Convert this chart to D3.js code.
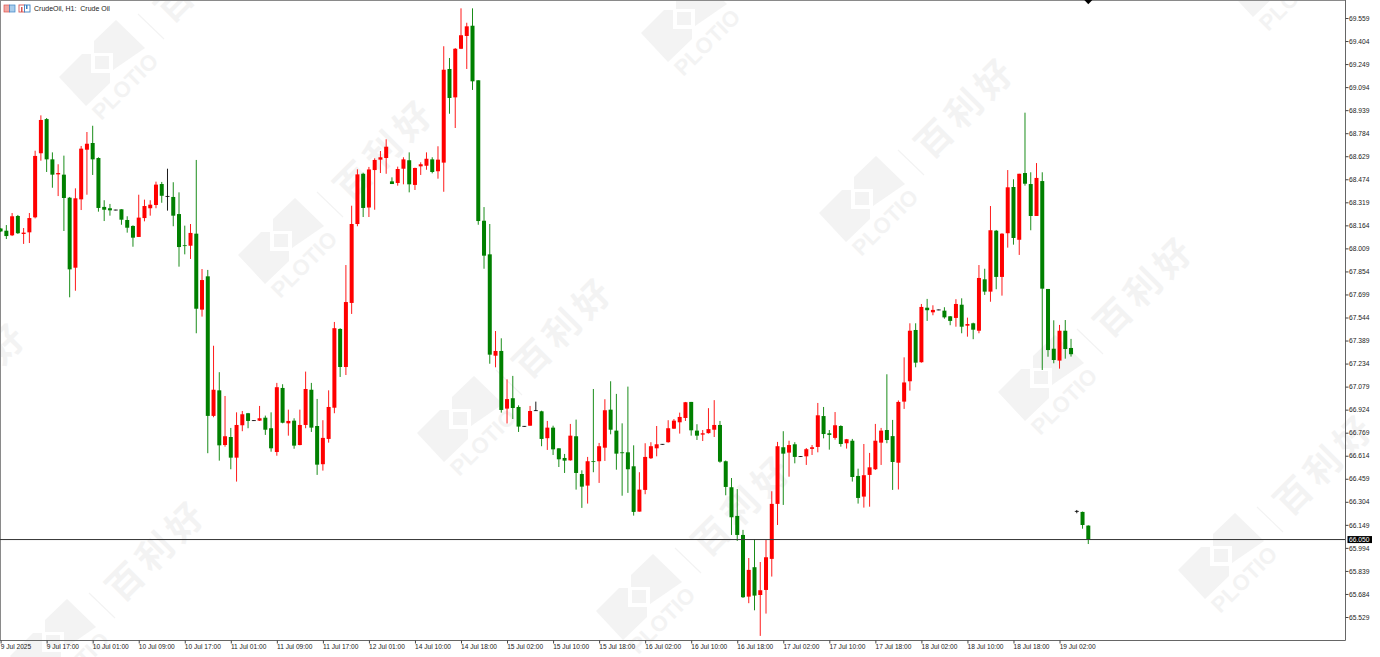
<!DOCTYPE html>
<html><head><meta charset="utf-8">
<script src="https://cdn.jsdelivr.net/npm/d3@7/dist/d3.min.js"></script>
<style>html,body{margin:0;padding:0;background:#fff;overflow:hidden}svg{display:block}text{font-family:"Liberation Sans",Arial,sans-serif}</style>
</head><body><svg id="c" width="1380" height="657"></svg>
<script>
const opens=[68.143,68.128,68.097,68.227,68.106,68.117,68.218,68.649,68.879,68.608,
68.507,68.505,68.350,67.879,68.339,68.673,68.718,68.617,68.288,68.279,
68.267,68.272,68.200,68.160,68.086,68.213,68.279,68.301,68.442,68.359,
68.355,68.240,68.030,68.027,68.108,67.597,67.821,66.882,67.054,66.686,
66.740,66.601,66.819,66.900,66.850,66.850,66.870,66.799,66.639,67.070,
66.832,66.850,66.686,66.821,67.058,66.814,66.557,66.727,66.937,67.467,
67.211,67.642,68.173,68.511,68.284,68.536,68.606,68.617,68.460,68.449,
68.545,68.602,68.436,68.561,68.565,68.608,68.528,68.586,69.216,69.025,
69.352,69.438,69.507,69.140,68.195,67.969,67.287,67.319,66.931,67.001,
66.942,66.812,66.816,66.917,66.913,66.732,66.803,66.664,66.599,66.583,
66.745,66.491,66.413,66.577,66.577,66.668,66.924,66.783,66.637,66.637,
66.543,66.238,66.384,66.597,66.664,66.691,66.705,66.796,66.839,66.868,
66.976,66.783,66.756,66.766,66.789,66.821,66.577,66.402,66.209,66.081,
65.666,65.864,65.677,65.711,65.920,66.290,66.671,66.635,66.691,66.608,
66.610,66.660,66.673,66.881,66.765,66.734,66.814,66.698,66.715,66.478,
66.339,66.485,66.523,66.702,66.787,66.746,66.567,66.978,67.115,67.460,
67.243,67.610,67.579,67.595,67.590,67.552,67.541,67.630,67.489,67.505,
67.455,67.801,67.718,68.128,67.817,68.111,68.422,68.067,68.516,68.442,
68.227,68.462,67.736,67.334,67.254,67.455,67.339,66.240,66.236,66.144];
const closes=[68.123,68.092,68.225,68.111,68.115,68.213,68.631,68.873,68.608,68.505,
68.516,68.348,67.868,68.346,68.680,68.713,68.608,68.281,68.269,68.265,
68.267,68.202,68.148,68.081,68.216,68.294,68.303,68.438,68.363,68.359,
68.229,68.018,68.025,68.113,67.603,67.796,66.882,67.058,66.684,66.745,
66.601,66.821,66.893,66.848,66.850,66.866,66.789,66.664,67.075,66.836,
66.848,66.682,66.821,67.063,66.803,66.554,66.734,66.942,67.472,67.211,
67.648,68.173,68.507,68.281,68.540,68.604,68.622,68.693,68.442,68.543,
68.608,68.440,68.550,68.575,68.612,68.523,68.606,69.211,69.021,69.352,
69.443,69.503,69.133,68.193,67.960,67.294,67.319,66.922,66.995,66.935,
66.810,66.812,66.915,66.917,66.727,66.803,66.657,66.590,66.581,66.749,
66.498,66.406,66.577,66.572,66.678,66.920,66.789,66.628,66.631,66.523,
66.236,66.386,66.606,66.678,66.691,66.691,66.799,66.850,66.875,66.974,
66.785,66.749,66.765,66.793,66.821,66.574,66.404,66.200,66.081,65.662,
65.846,65.673,65.709,65.931,66.290,66.678,66.628,66.686,66.606,66.608,
66.658,66.671,66.886,66.760,66.754,66.819,66.693,66.725,66.471,66.330,
66.483,66.536,66.715,66.783,66.720,66.572,66.976,67.107,67.455,67.240,
67.615,67.593,67.595,67.595,67.545,67.521,67.635,67.482,67.500,67.462,
67.810,67.718,68.131,67.817,68.108,68.420,68.079,68.511,68.444,68.227,
68.483,67.738,67.325,67.258,67.455,67.332,67.297,66.240,66.148,66.052];
const highs=[68.146,68.166,68.247,68.234,68.146,68.247,68.666,68.904,68.886,68.655,
68.575,68.633,68.355,68.413,68.698,68.792,68.834,68.622,68.333,68.308,
68.269,68.272,68.225,68.164,68.370,68.337,68.333,68.458,68.456,68.545,
68.454,68.386,68.162,68.173,68.604,67.870,67.864,67.354,67.176,67.016,
66.801,66.906,66.915,66.902,66.852,66.949,66.884,66.906,67.104,67.095,
66.924,66.866,66.924,67.180,67.104,66.996,66.853,67.054,67.514,67.472,
67.897,68.296,68.541,68.518,68.557,68.615,68.664,68.743,68.487,68.559,
68.622,68.655,68.552,68.588,68.655,68.622,68.696,69.369,69.290,69.357,
69.624,69.527,69.624,69.140,68.287,68.173,67.453,67.404,67.128,67.151,
66.953,66.814,66.949,66.978,66.917,66.848,66.816,66.664,66.626,66.828,
66.857,66.516,66.606,67.063,66.700,66.994,67.115,67.030,66.832,67.079,
66.684,66.503,66.698,66.705,66.814,66.693,66.853,66.861,66.904,66.976,
66.976,66.826,66.787,66.934,66.988,66.848,66.582,66.464,66.390,66.115,
65.926,66.052,65.899,66.047,66.375,66.707,66.779,66.715,66.705,66.610,
66.666,66.686,66.969,66.942,66.787,66.908,66.819,66.727,66.727,66.527,
66.693,66.633,66.828,66.801,67.162,66.855,66.986,67.276,67.505,67.505,
67.635,67.669,67.626,67.597,67.613,67.554,67.667,67.673,67.543,67.509,
67.897,67.872,68.294,68.133,68.111,68.536,68.474,68.511,68.922,68.521,
68.583,68.521,67.736,67.525,67.494,67.527,67.400,66.249,66.238,66.146];
const lows=[68.119,68.072,68.092,68.106,68.039,68.045,68.211,68.599,68.523,68.417,
68.361,68.126,67.680,67.724,68.267,68.370,68.503,68.256,68.193,68.229,
68.265,68.168,68.115,68.020,68.086,68.191,68.229,68.279,68.316,68.263,
68.158,67.886,67.969,67.938,67.438,67.550,66.631,66.873,66.581,66.675,
66.523,66.440,66.779,66.799,66.848,66.848,66.754,66.641,66.614,66.832,
66.749,66.661,66.684,66.799,66.774,66.485,66.514,66.702,66.900,67.144,
67.157,67.568,68.158,68.220,68.220,68.269,68.516,68.511,68.442,68.431,
68.440,68.386,68.402,68.503,68.538,68.514,68.478,68.390,68.915,68.819,
69.350,69.216,69.075,68.168,67.872,67.233,67.209,66.904,66.831,66.861,
66.774,66.810,66.816,66.915,66.678,66.653,66.619,66.538,66.498,66.581,
66.386,66.263,66.292,66.503,66.431,66.579,66.758,66.520,66.345,66.364,
66.211,66.238,66.355,66.592,66.610,66.689,66.702,66.794,66.763,66.848,
66.749,66.720,66.713,66.763,66.740,66.567,66.348,66.081,66.041,65.657,
65.622,65.574,65.402,65.552,65.801,66.148,66.283,66.473,66.563,66.606,
66.552,66.619,66.637,66.731,66.655,66.722,66.675,66.662,66.440,66.292,
66.265,66.271,66.518,66.552,66.698,66.384,66.387,66.929,67.052,67.209,
67.240,67.521,67.559,67.593,67.536,67.492,67.482,67.438,67.415,67.398,
67.438,67.696,67.650,67.734,67.691,68.014,68.034,67.965,68.431,68.131,
68.227,67.191,67.280,67.236,67.200,67.267,67.281,66.227,66.123,66.020];
const priceTicks=[69.559,69.404,69.249,69.094,68.939,68.784,68.629,68.474,68.319,68.164,68.009,67.854,67.699,67.544,67.389,67.234,67.079,66.924,66.769,66.614,66.459,66.304,66.149,65.994,65.839,65.684,65.529];
const timeLabels=["9 Jul 2025","9 Jul 17:00","10 Jul 01:00","10 Jul 09:00","10 Jul 17:00","11 Jul 01:00","11 Jul 09:00","11 Jul 17:00","12 Jul 01:00","14 Jul 10:00","14 Jul 18:00","15 Jul 02:00","15 Jul 10:00","15 Jul 18:00","16 Jul 02:00","16 Jul 10:00","16 Jul 18:00","17 Jul 02:00","17 Jul 10:00","17 Jul 18:00","18 Jul 02:00","18 Jul 10:00","18 Jul 18:00","19 Jul 02:00"];
const barsPerLabel=8;
const currentPrice=66.05;
const title="CrudeOil, H1:  Crude Oil";
const brand="PLOTIO", brandCn="百利好";
const markIndex=189;
const logoAnchors=[[59,77],[238,255],[417,433],[596,611],[641,33],[819,213],[998,392],[1178,570],[1226,-12],[-169,478],[10,656]];

const svg=d3.select("#c");
const plotRight=1345.5, plotBottom=640.5;
const x=d3.scaleLinear().domain([0,189]).range([0.6,0.6+5.755*189]);
const y=d3.scaleLinear().domain([65.529,69.559]).range([617,18]);
const wmColor="#f3f3f3";

// watermark
const wm=svg.append("g");
logoAnchors.forEach(([ax,ay])=>{
  const g=wm.append("g").attr("transform",`translate(${ax},${ay})`);
  g.append("polygon").attr("fill",wmColor).attr("points","0,0 23,-23 32,-23 32,-4 51,-4 51,6 27,29");
  g.append("polygon").attr("fill",wmColor).attr("points","35,-36 57,-57 86,-29 54,-7 54,-24 35,-24");
  g.append("rect").attr("fill",wmColor).attr("x",36).attr("y",-21).attr("width",14).attr("height",13);
  g.append("line").attr("x1",79).attr("y1",-63).attr("x2",105).attr("y2",-38).attr("stroke",wmColor).attr("stroke-width",1.2);
  g.append("text").text(brand).attr("transform","translate(66,9) rotate(-45)").attr("text-anchor","middle").attr("dy","0.36em")
    .attr("font-size",22).attr("font-weight",700).attr("fill",wmColor).attr("letter-spacing",0.2);
  g.append("text").text(brandCn).attr("transform","translate(147,-106) rotate(-45)").attr("text-anchor","middle").attr("dy","0.36em")
    .style("font-family",'"Noto Sans CJK SC"').attr("font-size",36).attr("font-weight",700).attr("fill",wmColor).attr("letter-spacing",6);
});

// frame
svg.append("line").attr("x1",0).attr("x2",plotRight).attr("y1",0.5).attr("y2",0.5).attr("stroke","#8a8a8a");
svg.append("line").attr("x1",0.5).attr("x2",0.5).attr("y1",0).attr("y2",plotBottom).attr("stroke","#8a8a8a");

// candles
const bars=d3.range(opens.length).map(i=>({i,o:opens[i],h:highs[i],l:lows[i],c:closes[i]}));
const col=d=>d.c>d.o?"#ff0000":d.c<d.o?"#008000":"#000000";
svg.append("g").selectAll("line").data(bars).join("line")
  .attr("x1",d=>x(d.i)).attr("x2",d=>x(d.i)).attr("y1",d=>y(d.h)).attr("y2",d=>y(d.l))
  .attr("stroke",col).attr("stroke-width",0.9);
svg.append("g").selectAll("rect").data(bars).join("rect")
  .attr("x",d=>x(d.i)-2).attr("width",4)
  .attr("y",d=>y(Math.max(d.o,d.c))-(d.o===d.c?0.4:0))
  .attr("height",d=>Math.max(0.8,Math.abs(y(d.o)-y(d.c))))
  .attr("fill",col);

// current price line
svg.append("line").attr("x1",0).attr("x2",plotRight).attr("y1",y(currentPrice)).attr("y2",y(currentPrice)).attr("stroke","#333").attr("stroke-width",1);

// marker at the top
svg.append("path").attr("d",d3.line()([[x(markIndex)-4,0],[x(markIndex)+4,0],[x(markIndex),4.3]])+"Z").attr("fill","#000");

// axes
const axR=svg.append("g").attr("transform",`translate(${plotRight},0)`)
  .call(d3.axisRight(y).tickValues(priceTicks).tickFormat(d3.format(".3f")).tickSize(3).tickPadding(0.5));
axR.select(".domain").attr("d",`M0,0V${plotBottom}`).attr("stroke","#666");
axR.selectAll("line").attr("stroke","#444");
axR.selectAll("text").attr("font-size",6.7).attr("fill","#222").style("font-family",'"Liberation Sans"').attr("dy","0.32em");

const tickIdx=timeLabels.map((_,k)=>k*barsPerLabel);
const axB=svg.append("g").attr("transform",`translate(0,${plotBottom})`)
  .call(d3.axisBottom(x).tickValues(tickIdx).tickFormat((d,k)=>timeLabels[k]).tickSize(3));
axB.select(".domain").attr("d",`M0,0H${plotRight}`).attr("stroke","#666");
axB.selectAll("line").attr("stroke","#444");
axB.selectAll("text").attr("text-anchor","start").attr("x",-0.4).attr("y",4.2).attr("dy","0.71em").attr("font-size",6.6).attr("fill","#222").style("font-family",'"Liberation Sans"');

// current price label
const py=y(currentPrice);
svg.append("rect").attr("x",1347.5).attr("y",py-3.5).attr("width",24.5).attr("height",7).attr("fill","#000");
svg.append("text").text(d3.format(".3f")(currentPrice)).attr("x",1349).attr("y",py).attr("dy","0.34em").attr("font-size",6.7).attr("fill","#fff");

// header icons and title
const ic=svg.append("g");
[4,19].forEach((ix,k)=>{
  const w=11,h=7;
  if(k===0){
    ic.append("rect").attr("x",ix).attr("y",5).attr("width",w/2).attr("height",h).attr("fill","#f4a7a2").attr("stroke","#d9534f").attr("stroke-width",0.7);
    ic.append("rect").attr("x",ix+w/2).attr("y",5).attr("width",w/2).attr("height",h).attr("fill","#a9cdec").attr("stroke","#3b82c4").attr("stroke-width",0.7);
  } else {
    ic.append("rect").attr("x",ix).attr("y",5).attr("width",w/2).attr("height",h).attr("fill","#fff").attr("stroke","#d9534f").attr("stroke-width",0.9);
    ic.append("rect").attr("x",ix+w/2).attr("y",5).attr("width",w/2).attr("height",h).attr("fill","#fff").attr("stroke","#3b82c4").attr("stroke-width",0.9);
    ic.append("rect").attr("x",ix+2).attr("y",7).attr("width",1.5).attr("height",5).attr("fill","#d9534f");
    ic.append("rect").attr("x",ix+7).attr("y",5).attr("width",1.5).attr("height",4).attr("fill","#3b82c4");
  }
});
svg.append("text").text(title).attr("x",34).attr("y",8.4).attr("dy","0.34em").attr("font-size",7).attr("fill","#222").style("white-space","pre");
</script></body></html>
